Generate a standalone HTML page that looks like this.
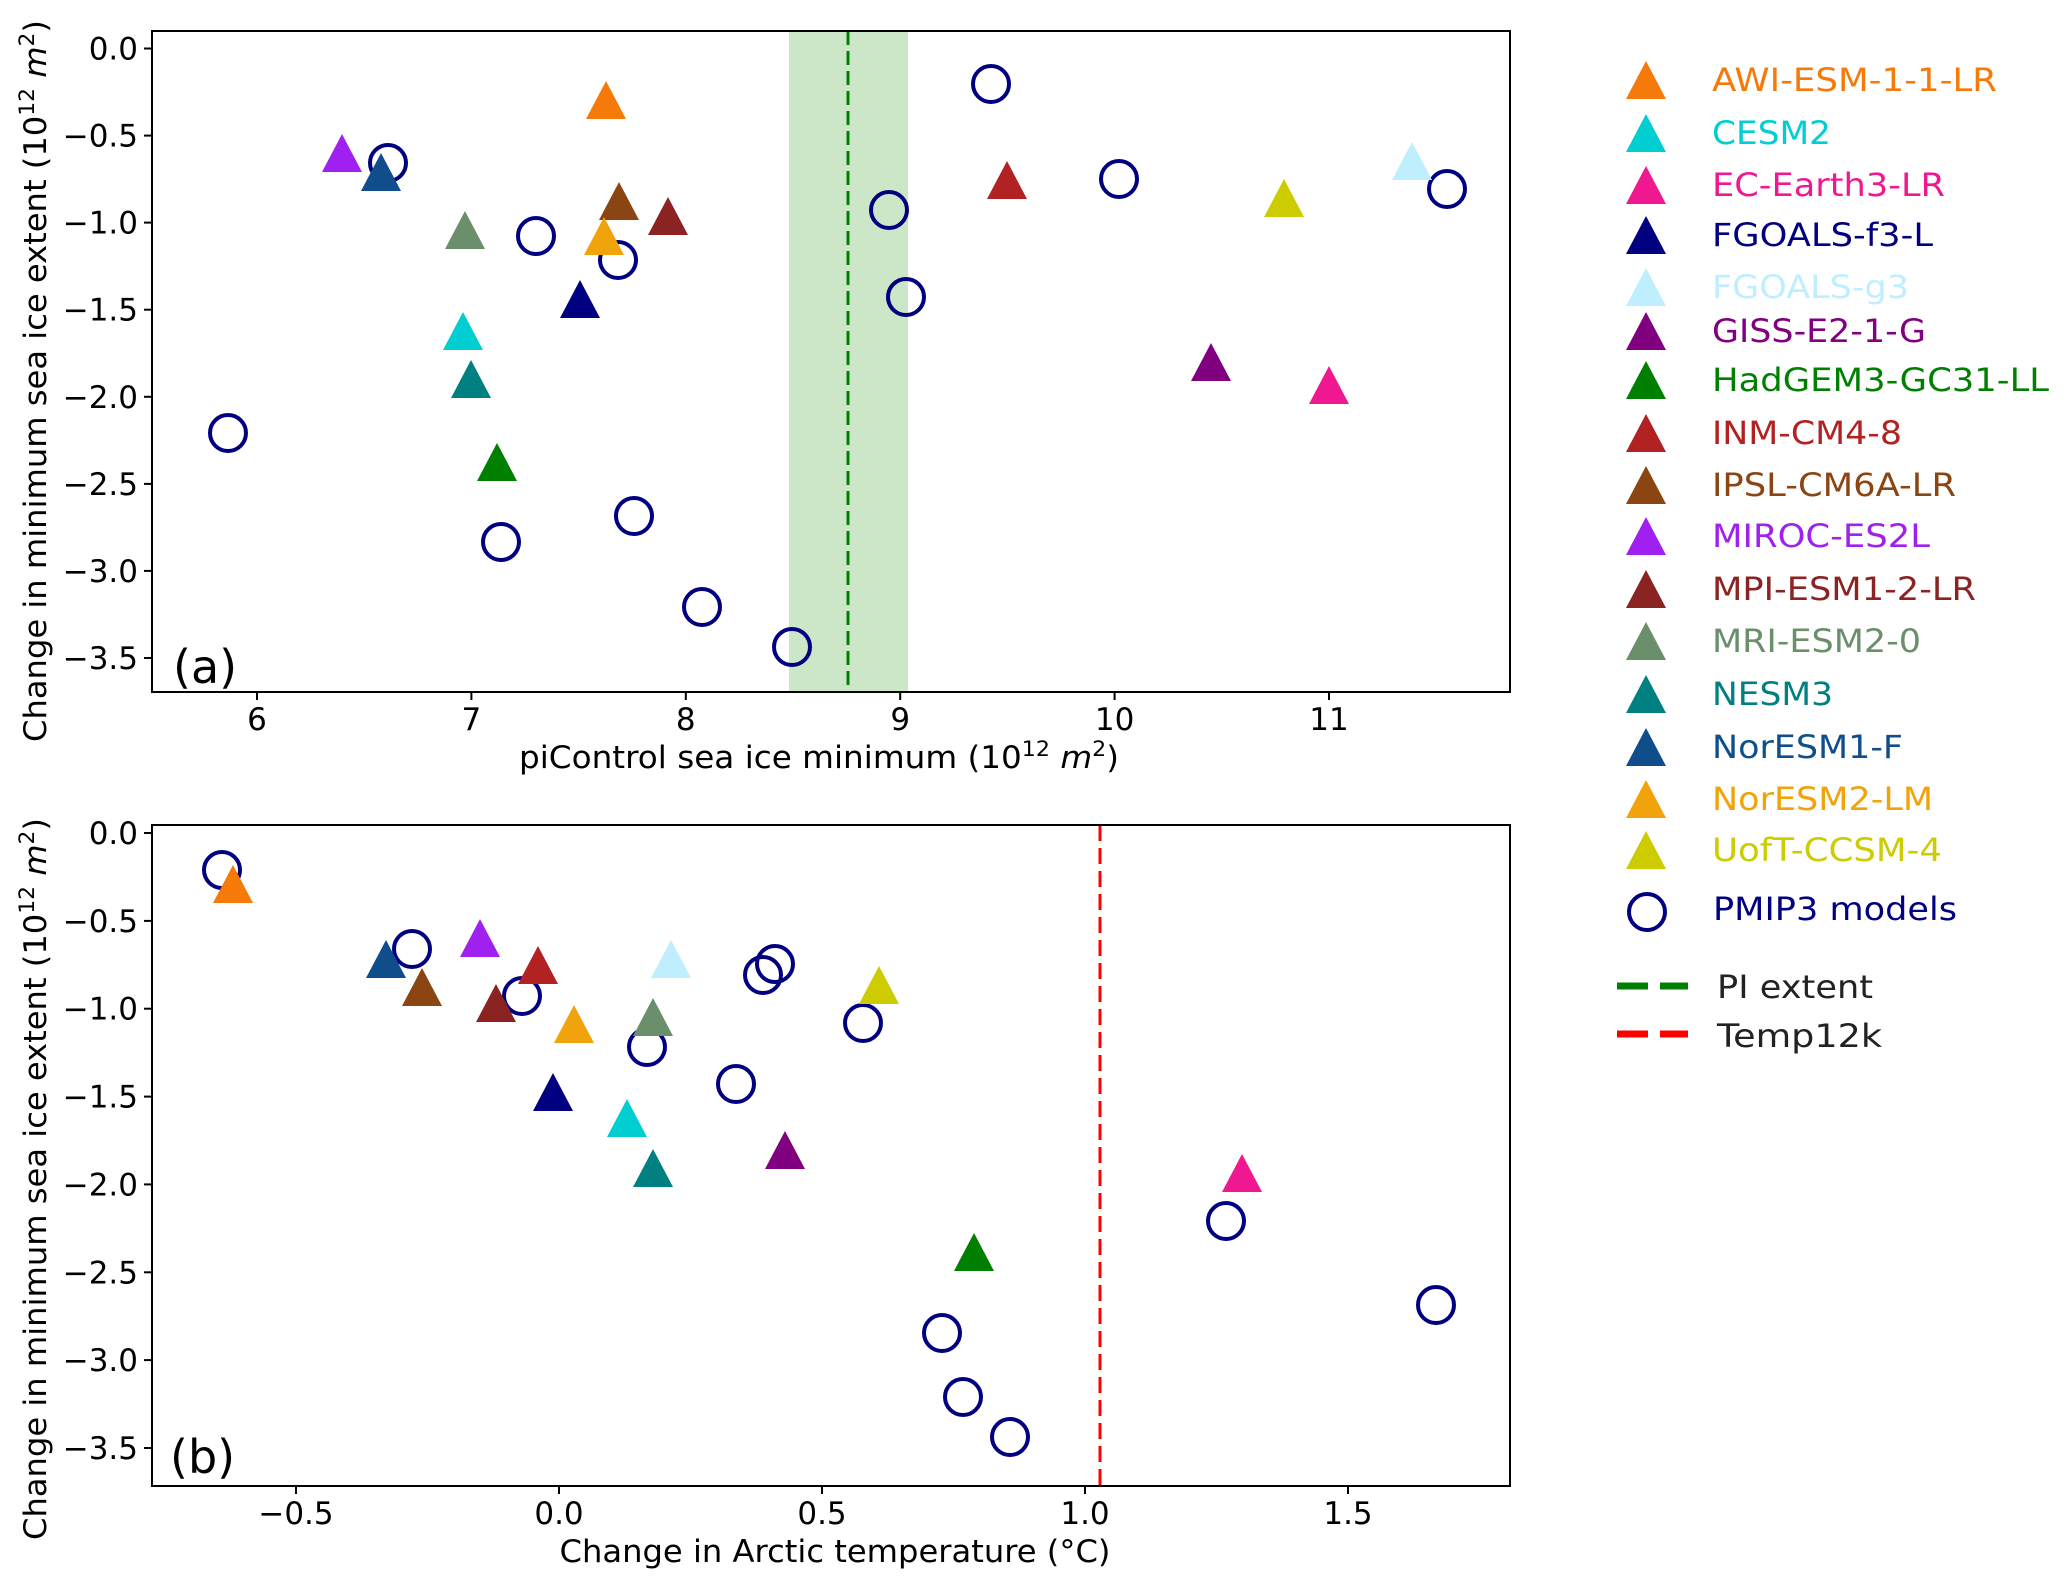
<!DOCTYPE html>
<html><head><meta charset="utf-8"><style>html,body{margin:0;padding:0;background:#fff}svg{display:block}</style></head>
<body>
<svg width="2067" height="1586" viewBox="0 0 2067 1586" xmlns="http://www.w3.org/2000/svg" font-family="DejaVu Sans, Liberation Sans, sans-serif">
<defs>
<path id="t" d="M0,-20 L-20,18 L20,18 Z"/>
</defs>
<!-- Panel a -->
<rect x="789" y="31" width="119" height="661" fill="#cce6c8"/>
<line x1="848" y1="31" x2="848" y2="692" stroke="#008000" stroke-width="3" stroke-dasharray="14,6"/>
<g fill="none" stroke="#000080" stroke-width="4">
<circle cx="388" cy="163" r="18"/><circle cx="536" cy="236" r="18"/><circle cx="618" cy="260" r="18"/><circle cx="228" cy="433" r="18"/><circle cx="501" cy="542" r="18"/><circle cx="634" cy="516" r="18"/><circle cx="702" cy="607" r="18"/><circle cx="792" cy="647" r="18"/><circle cx="991" cy="84" r="18"/><circle cx="889" cy="210" r="18"/><circle cx="906" cy="297" r="18"/><circle cx="1119" cy="179" r="18"/><circle cx="1447" cy="189" r="18"/>
</g>
<use href="#t" x="606" y="101" fill="#f57a0a"/>
<use href="#t" x="342" y="154" fill="#a020f0"/>
<use href="#t" x="381" y="173" fill="#104e8b"/>
<use href="#t" x="619" y="202" fill="#8b4513"/>
<use href="#t" x="668" y="217" fill="#8b2323"/>
<use href="#t" x="465" y="231" fill="#6b8e6b"/>
<use href="#t" x="604" y="237" fill="#f0a30a"/>
<use href="#t" x="580" y="300" fill="#000080"/>
<use href="#t" x="463" y="332" fill="#00ced1"/>
<use href="#t" x="471" y="380" fill="#008080"/>
<use href="#t" x="497" y="463" fill="#008000"/>
<use href="#t" x="1007" y="181" fill="#b22222"/>
<use href="#t" x="1284" y="199" fill="#cccc00"/>
<use href="#t" x="1412" y="162" fill="#bfefff"/>
<use href="#t" x="1211" y="363" fill="#800080"/>
<use href="#t" x="1329" y="386" fill="#f01890"/>
<rect x="152" y="31" width="1358" height="661" fill="none" stroke="#000" stroke-width="2"/>
<g stroke="#000" stroke-width="2">
<line x1="257" y1="692" x2="257" y2="700"/><line x1="471.4" y1="692" x2="471.4" y2="700"/><line x1="685.8" y1="692" x2="685.8" y2="700"/><line x1="900.2" y1="692" x2="900.2" y2="700"/><line x1="1114.6" y1="692" x2="1114.6" y2="700"/><line x1="1329" y1="692" x2="1329" y2="700"/>
<line x1="144" y1="48.5" x2="152" y2="48.5"/><line x1="144" y1="135.6" x2="152" y2="135.6"/><line x1="144" y1="222.6" x2="152" y2="222.6"/><line x1="144" y1="309.7" x2="152" y2="309.7"/><line x1="144" y1="396.8" x2="152" y2="396.8"/><line x1="144" y1="483.9" x2="152" y2="483.9"/><line x1="144" y1="570.9" x2="152" y2="570.9"/><line x1="144" y1="658" x2="152" y2="658"/>
</g>
<g font-size="31" fill="#000" text-anchor="middle">
<text x="257" y="730">6</text><text x="471.4" y="730">7</text><text x="685.8" y="730">8</text><text x="900.2" y="730">9</text><text x="1114.6" y="730">10</text><text x="1329" y="730">11</text>
</g>
<g font-size="31" fill="#000" text-anchor="end">
<text x="138" y="59.5">0.0</text><text x="138" y="146.6">−0.5</text><text x="138" y="233.6">−1.0</text><text x="138" y="320.7">−1.5</text><text x="138" y="407.8">−2.0</text><text x="138" y="494.9">−2.5</text><text x="138" y="581.9">−3.0</text><text x="138" y="669">−3.5</text>
</g>
<text x="173" y="683" font-size="46">(a)</text>
<text x="819" y="768" font-size="31" text-anchor="middle" textLength="600" lengthAdjust="spacingAndGlyphs">piControl sea ice minimum (10<tspan font-size="21" dy="-12">12</tspan><tspan dy="12"> </tspan><tspan font-style="italic">m</tspan><tspan font-size="21" dy="-12">2</tspan><tspan dy="12">)</tspan></text>
<text transform="translate(46,381) rotate(-90)" font-size="31" text-anchor="middle" textLength="722" lengthAdjust="spacingAndGlyphs">Change in minimum sea ice extent (10<tspan font-size="21" dy="-12">12</tspan><tspan dy="12"> </tspan><tspan font-style="italic">m</tspan><tspan font-size="21" dy="-12">2</tspan><tspan dy="12">)</tspan></text>

<!-- Panel b -->
<line x1="1100" y1="825" x2="1100" y2="1486" stroke="#ff0000" stroke-width="3" stroke-dasharray="16,7"/>
<g fill="none" stroke="#000080" stroke-width="4">
<circle cx="222" cy="870" r="18"/><circle cx="412" cy="949" r="18"/><circle cx="522" cy="996" r="18"/><circle cx="647" cy="1047" r="18"/><circle cx="736" cy="1084" r="18"/><circle cx="763" cy="975" r="18"/><circle cx="775" cy="964" r="18"/><circle cx="863" cy="1023" r="18"/><circle cx="942" cy="1333" r="18"/><circle cx="963" cy="1397" r="18"/><circle cx="1010" cy="1437" r="18"/><circle cx="1226" cy="1221" r="18"/><circle cx="1436" cy="1305" r="18"/>
</g>
<use href="#t" x="233" y="885" fill="#f57a0a"/>
<use href="#t" x="386" y="960" fill="#104e8b"/>
<use href="#t" x="422" y="988" fill="#8b4513"/>
<use href="#t" x="480" y="939" fill="#a020f0"/>
<use href="#t" x="538" y="966" fill="#b22222"/>
<use href="#t" x="496" y="1004" fill="#8b2323"/>
<use href="#t" x="574" y="1025" fill="#f0a30a"/>
<use href="#t" x="653" y="1018" fill="#6b8e6b"/>
<use href="#t" x="671" y="960" fill="#bfefff"/>
<use href="#t" x="879" y="986" fill="#cccc00"/>
<use href="#t" x="553" y="1093" fill="#000080"/>
<use href="#t" x="627" y="1119" fill="#00ced1"/>
<use href="#t" x="653" y="1169" fill="#008080"/>
<use href="#t" x="785" y="1151" fill="#800080"/>
<use href="#t" x="974" y="1253" fill="#008000"/>
<use href="#t" x="1242" y="1174" fill="#f01890"/>
<rect x="152" y="825" width="1358" height="661" fill="none" stroke="#000" stroke-width="2"/>
<g stroke="#000" stroke-width="2">
<line x1="296" y1="1486" x2="296" y2="1494"/><line x1="559" y1="1486" x2="559" y2="1494"/><line x1="822" y1="1486" x2="822" y2="1494"/><line x1="1085" y1="1486" x2="1085" y2="1494"/><line x1="1348" y1="1486" x2="1348" y2="1494"/>
<line x1="144" y1="833" x2="152" y2="833"/><line x1="144" y1="920.9" x2="152" y2="920.9"/><line x1="144" y1="1008.7" x2="152" y2="1008.7"/><line x1="144" y1="1096.6" x2="152" y2="1096.6"/><line x1="144" y1="1184.4" x2="152" y2="1184.4"/><line x1="144" y1="1272.3" x2="152" y2="1272.3"/><line x1="144" y1="1360.1" x2="152" y2="1360.1"/><line x1="144" y1="1448" x2="152" y2="1448"/>
</g>
<g font-size="31" fill="#000" text-anchor="middle">
<text x="296" y="1524">−0.5</text><text x="559" y="1524">0.0</text><text x="822" y="1524">0.5</text><text x="1085" y="1524">1.0</text><text x="1348" y="1524">1.5</text>
</g>
<g font-size="31" fill="#000" text-anchor="end">
<text x="138" y="844">0.0</text><text x="138" y="931.9">−0.5</text><text x="138" y="1019.7">−1.0</text><text x="138" y="1107.6">−1.5</text><text x="138" y="1195.4">−2.0</text><text x="138" y="1283.3">−2.5</text><text x="138" y="1371.1">−3.0</text><text x="138" y="1459">−3.5</text>
</g>
<text x="170" y="1473" font-size="46">(b)</text>
<text x="835" y="1562" font-size="31" text-anchor="middle" textLength="551" lengthAdjust="spacingAndGlyphs">Change in Arctic temperature (°C)</text>
<text transform="translate(46,1179) rotate(-90)" font-size="31" text-anchor="middle" textLength="722" lengthAdjust="spacingAndGlyphs">Change in minimum sea ice extent (10<tspan font-size="21" dy="-12">12</tspan><tspan dy="12"> </tspan><tspan font-style="italic">m</tspan><tspan font-size="21" dy="-12">2</tspan><tspan dy="12">)</tspan></text>

<!-- Legend -->
<g font-size="32">
<use href="#t" x="1646" y="81" fill="#f57a0a"/><text x="1712" y="91" fill="#f57a0a" textLength="285" lengthAdjust="spacingAndGlyphs">AWI-ESM-1-1-LR</text>
<use href="#t" x="1646" y="134" fill="#00ced1"/><text x="1712" y="144" fill="#00ced1" textLength="119" lengthAdjust="spacingAndGlyphs">CESM2</text>
<use href="#t" x="1646" y="186" fill="#f01890"/><text x="1712" y="196" fill="#f01890" textLength="233" lengthAdjust="spacingAndGlyphs">EC-Earth3-LR</text>
<use href="#t" x="1646" y="236" fill="#000080"/><text x="1712" y="246" fill="#000080" textLength="221" lengthAdjust="spacingAndGlyphs">FGOALS-f3-L</text>
<use href="#t" x="1646" y="288" fill="#bfefff"/><text x="1712" y="298" fill="#bfefff" textLength="197" lengthAdjust="spacingAndGlyphs">FGOALS-g3</text>
<use href="#t" x="1646" y="332" fill="#800080"/><text x="1712" y="342" fill="#800080" textLength="214" lengthAdjust="spacingAndGlyphs">GISS-E2-1-G</text>
<use href="#t" x="1646" y="381" fill="#008000"/><text x="1712" y="391" fill="#008000" textLength="337" lengthAdjust="spacingAndGlyphs">HadGEM3-GC31-LL</text>
<use href="#t" x="1646" y="434" fill="#b22222"/><text x="1712" y="444" fill="#b22222" textLength="190" lengthAdjust="spacingAndGlyphs">INM-CM4-8</text>
<use href="#t" x="1646" y="486" fill="#8b4513"/><text x="1712" y="496" fill="#8b4513" textLength="244" lengthAdjust="spacingAndGlyphs">IPSL-CM6A-LR</text>
<use href="#t" x="1646" y="537" fill="#a020f0"/><text x="1712" y="547" fill="#a020f0" textLength="218" lengthAdjust="spacingAndGlyphs">MIROC-ES2L</text>
<use href="#t" x="1646" y="590" fill="#8b2323"/><text x="1712" y="600" fill="#8b2323" textLength="264" lengthAdjust="spacingAndGlyphs">MPI-ESM1-2-LR</text>
<use href="#t" x="1646" y="642" fill="#6b8e6b"/><text x="1712" y="652" fill="#6b8e6b" textLength="209" lengthAdjust="spacingAndGlyphs">MRI-ESM2-0</text>
<use href="#t" x="1646" y="695" fill="#008080"/><text x="1712" y="705" fill="#008080" textLength="121" lengthAdjust="spacingAndGlyphs">NESM3</text>
<use href="#t" x="1646" y="748" fill="#104e8b"/><text x="1712" y="758" fill="#104e8b" textLength="191" lengthAdjust="spacingAndGlyphs">NorESM1-F</text>
<use href="#t" x="1646" y="800" fill="#f0a30a"/><text x="1712" y="810" fill="#f0a30a" textLength="221" lengthAdjust="spacingAndGlyphs">NorESM2-LM</text>
<use href="#t" x="1646" y="851" fill="#cccc00"/><text x="1712" y="861" fill="#cccc00" textLength="230" lengthAdjust="spacingAndGlyphs">UofT-CCSM-4</text>
<circle cx="1647" cy="912" r="18" fill="none" stroke="#000080" stroke-width="4"/><text x="1713" y="920" fill="#000080" textLength="244" lengthAdjust="spacingAndGlyphs">PMIP3 models</text>
<line x1="1617" y1="986" x2="1688" y2="986" stroke="#008000" stroke-width="7" stroke-dasharray="31,12"/><text x="1717" y="998" fill="#222" textLength="156" lengthAdjust="spacingAndGlyphs">PI extent</text>
<line x1="1617" y1="1034" x2="1688" y2="1034" stroke="#ff0000" stroke-width="7" stroke-dasharray="31,12"/><text x="1717" y="1047" fill="#222" textLength="165" lengthAdjust="spacingAndGlyphs">Temp12k</text>
</g>
</svg>
</body></html>
